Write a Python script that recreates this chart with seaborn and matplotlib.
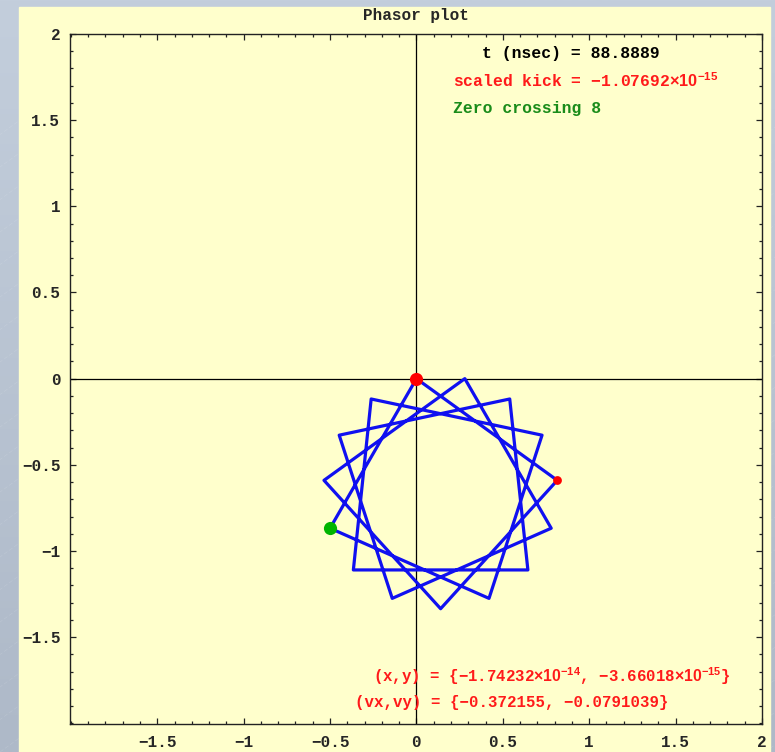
import numpy as np
import matplotlib
matplotlib.use("Agg")
import matplotlib.pyplot as plt
import seaborn as sns
from matplotlib.patches import Rectangle
from matplotlib.ticker import FixedLocator, FixedFormatter, MultipleLocator

# Phasor trajectory: vertices visited in order (closed star polygon)
path_x = [0.000, -0.500, 0.420, 0.727, -0.262, -0.365, 0.645, 0.540,
          -0.447, -0.140, 0.780, 0.280, -0.535, 0.140, 0.815, 0.000]
path_y = [0.000, -0.868, -1.275, -0.328, -0.118, -1.110, -1.110, -0.118,
          -0.328, -1.275, -0.868, 0.000, -0.590, -1.335, -0.590, 0.000]

# Highlighted points
current_xy = (0.0, 0.0)        # present position
kick_xy = (0.815, -0.590)      # point where the kick is applied
zero_xy = (-0.500, -0.868)     # zero crossing marker

# Axis ticks
tick_values = [-1.5, -1.0, -0.5, 0.0, 0.5, 1.0, 1.5, 2.0]
tick_labels = ["\u22121.5", "\u22121", "\u22120.5", "0", "0.5", "1", "1.5", "2"]

# Annotation texts
t_text = "t (nsec) = 88.8889"
kick_text = "scaled kick = \u22121.07692$\\times10^{-15}$"
zero_text = "Zero crossing 8"
pos_text = "(x,y) = {\u22121.74232$\\times10^{-14}$, \u22123.66018$\\times10^{-15}$}"
vel_text = "(vx,vy) = {\u22120.372155, \u22120.0791039}"

sns.set_style("ticks")
plt.rcParams["font.family"] = ["Liberation Mono", "DejaVu Sans"]
plt.rcParams["font.weight"] = "bold"
plt.rcParams["mathtext.fontset"] = "custom"
plt.rcParams["mathtext.rm"] = "Liberation Sans:bold"
plt.rcParams["mathtext.default"] = "rm"

W, H = 775, 752
fig = plt.figure(figsize=(W / 100, H / 100), dpi=100)

# Backdrop: bluish gradient with faint diagonal streaks, then the yellow panel
bg = fig.add_axes([0, 0, 1, 1], zorder=-10)
grad = np.linspace(0, 1, 256).reshape(-1, 1)
top_c = np.array([195, 206, 220]) / 255
bot_c = np.array([174, 185, 200]) / 255
img = top_c[None, None, :] * (1 - grad[..., None]) + bot_c[None, None, :] * grad[..., None]
bg.imshow(img, extent=[0, W, 0, H], aspect="auto", origin="upper")
for k in range(-40, 40):
    x0 = k * 45
    bg.plot([x0, x0 + 900], [0, 650], color="white", lw=0.5, alpha=0.12,
            ls=(0, (6, 3)))
bg.add_patch(Rectangle((19, 0), 751, H - 7, color="#FFFFCC", zorder=5))
bg.set_xlim(0, W)
bg.set_ylim(0, H)
bg.axis("off")

ax = fig.add_axes([70 / W, 28 / H, 692 / W, 690 / H])
ax.set_facecolor("#FFFFCC")

# Coordinate axes through the origin
ax.axhline(0, color="black", lw=0.9, zorder=1)
ax.axvline(0, color="black", lw=0.9, zorder=1)

sns.lineplot(x=path_x, y=path_y, sort=False, estimator=None,
             color="#1010F0", lw=2.3, ax=ax, zorder=3)

sns.scatterplot(x=[current_xy[0]], y=[current_xy[1]], color="#FF0000",
                s=90, linewidth=0, ax=ax, zorder=4)
sns.scatterplot(x=[kick_xy[0]], y=[kick_xy[1]], color="#FF0000",
                s=40, linewidth=0, ax=ax, zorder=4)
sns.scatterplot(x=[zero_xy[0]], y=[zero_xy[1]], color="#00B400",
                s=90, linewidth=0, ax=ax, zorder=4)

ax.set_xlim(-2.005, 2.0)
ax.set_ylim(-2.004, 2.0)

for axis in (ax.xaxis, ax.yaxis):
    axis.set_major_locator(FixedLocator(tick_values))
    axis.set_major_formatter(FixedFormatter(tick_labels))
    axis.set_minor_locator(MultipleLocator(0.1))

ax.tick_params(which="both", direction="in", top=True, right=True,
               color="#222222", width=0.9, labelsize=11.5)
ax.tick_params(which="major", length=4.0)
ax.tick_params(which="minor", length=2.4)
ax.tick_params(axis="x", pad=8)
ax.tick_params(axis="y", pad=7)
for lab in ax.get_xticklabels() + ax.get_yticklabels():
    lab.set_fontweight("bold")

for sp in ax.spines.values():
    sp.set_color("#222222")
    sp.set_linewidth(1.0)

ax.set_title("Phasor plot", fontsize=11.5, fontweight="bold", pad=10.4)

fs = 11.8
ax.text(0.378, 1.889, t_text, color="black", fontsize=fs, fontweight="bold", va="center")
ax.text(0.209, 1.728, kick_text, color="#FF1A1A", fontsize=fs, fontweight="bold", va="center")
ax.text(0.209, 1.570, zero_text, color="#1A8C1A", fontsize=fs, fontweight="bold", va="center")
ax.text(-0.252, -1.729, pos_text, color="#FF1A1A", fontsize=11.3, fontweight="bold", va="center")
ax.text(-0.356, -1.880, vel_text, color="#FF1A1A", fontsize=11.3, fontweight="bold", va="center")

fig.savefig("out.png", dpi=100)
